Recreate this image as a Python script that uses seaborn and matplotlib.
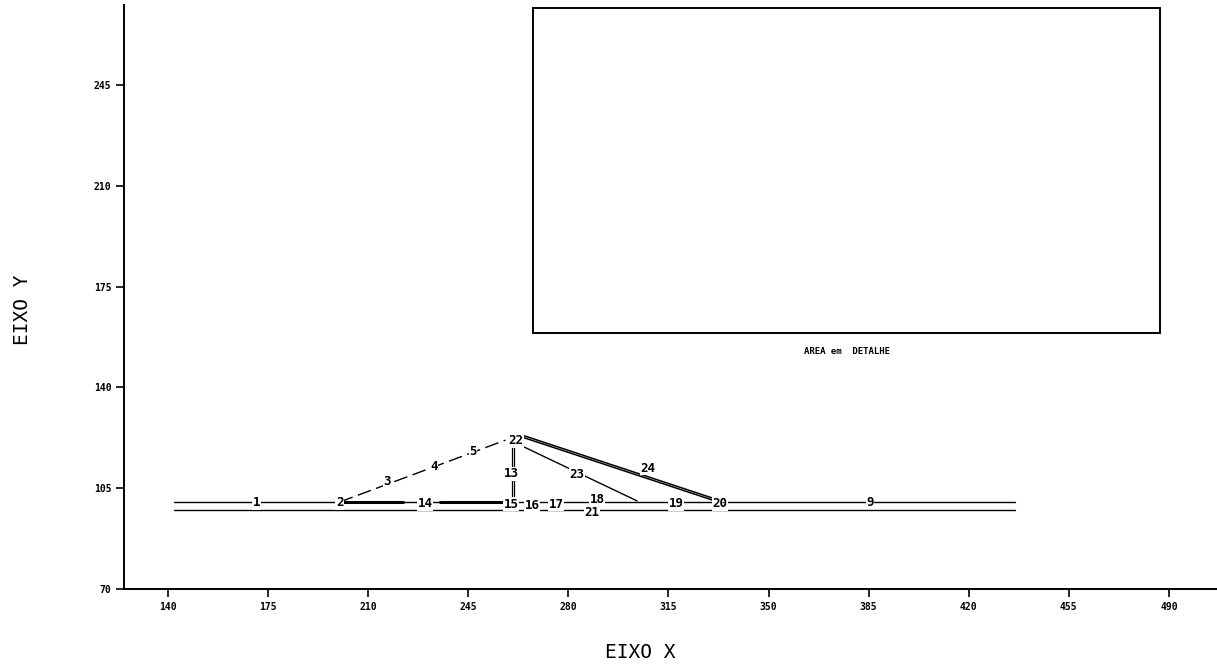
import matplotlib
matplotlib.use("Agg")
import matplotlib.pyplot as plt
import seaborn as sns
import pandas as pd
from matplotlib.patches import Rectangle

# Axis ticks
x_ticks = [140, 175, 210, 245, 280, 315, 350, 385, 420, 455, 490]
y_ticks = [70, 105, 140, 175, 210, 245]

# Chords of the truss (x start, x end, y)
upper_chord = [142.0, 436.0, 100.2]
lower_chord = [142.0, 436.0, 97.4]
# Heavier segments of the upper chord
heavy_segments = [[200.0, 222.0], [235.0, 258.0]]

# Inclined / vertical members: (x0, y0, x1, y1)
diag_left = [200.0, 100.2, 258.0, 121.7]
vertical_13 = [260.5, 100.2, 260.5, 121.0]
diag_23 = [262.4, 120.3, 304.0, 100.6]
diag_24 = [263.8, 123.1, 332.3, 100.6]

# Member / node labels
label_text = ["1", "2", "3", "4", "5", "13", "22", "14", "15", "16", "17",
              "18", "21", "23", "24", "19", "20", "9"]
label_x = [171.0, 200.0, 216.6, 233.0, 246.6, 260.0, 261.5, 229.9, 260.0,
           267.3, 275.7, 290.0, 288.3, 283.0, 307.8, 317.6, 333.0, 385.5]
label_y = [100.0, 100.0, 107.2, 112.7, 117.6, 110.0, 121.5, 99.6, 99.4,
           99.0, 99.4, 101.0, 96.6, 109.6, 112.0, 99.6, 99.6, 100.2]

# Detail window
detail_box = [267.6, 158.9, 486.9, 271.7]
detail_label = "AREA em  DETALHE"

sns.set_theme(style="ticks")
plt.rcParams["font.family"] = ["DejaVu Sans Mono", "DejaVu Sans"]

fig = plt.figure(figsize=(12.17, 6.69), dpi=100)
ax = fig.add_axes([124 / 1217, 1 - 589 / 669, 1 - 124 / 1217, (589 - 5) / 669])

chords = pd.DataFrame({
    "x": [upper_chord[0], upper_chord[1], lower_chord[0], lower_chord[1]],
    "y": [upper_chord[2], upper_chord[2], lower_chord[2], lower_chord[2]],
    "chord": ["upper", "upper", "lower", "lower"],
})
sns.lineplot(data=chords, x="x", y="y", units="chord", estimator=None,
             color="black", lw=1.0, ax=ax, sort=False)
for a, b in heavy_segments:
    ax.plot([a, b], [upper_chord[2], upper_chord[2]], color="black", lw=2.2)

ax.plot([diag_left[0], diag_left[2]], [diag_left[1], diag_left[3]],
        color="black", lw=1.0, dashes=(10, 4))
for dx in (-0.35, 0.35):
    ax.plot([vertical_13[0] + dx, vertical_13[2] + dx],
            [vertical_13[1], vertical_13[3]], color="black", lw=0.9)
ax.plot([diag_23[0], diag_23[2]], [diag_23[1], diag_23[3]],
        color="black", lw=1.0)
for dy in (-0.35, 0.35):
    ax.plot([diag_24[0], diag_24[2]], [diag_24[1] + dy, diag_24[3] + dy],
            color="black", lw=1.1)

for t, x, y in zip(label_text, label_x, label_y):
    ax.text(x, y, t, ha="center", va="center", fontsize=9, fontweight="bold",
            color="black",
            bbox=dict(facecolor="white", edgecolor="none", pad=0.4))

x0, y0, x1, y1 = detail_box
ax.add_patch(Rectangle((x0, y0), x1 - x0, y1 - y0, fill=False,
                       edgecolor="black", lw=1.4))
ax.text((x0 + x1) / 2, y0 - 6.5, detail_label, ha="center", va="center",
        fontsize=6.5, fontweight="bold", color="black")

ax.set_xlim(124.6, 506.8)
ax.set_ylim(70, 272.8)
ax.set_xticks(x_ticks)
ax.set_yticks(y_ticks)
ax.tick_params(axis="both", direction="out", length=6, width=1.2,
               labelsize=7, colors="black", pad=3)
for lab in ax.get_xticklabels() + ax.get_yticklabels():
    lab.set_fontweight("bold")
sns.despine(ax=ax)
ax.spines["left"].set_linewidth(1.4)
ax.spines["bottom"].set_linewidth(1.4)
ax.spines["left"].set_color("black")
ax.spines["bottom"].set_color("black")
ax.set_xlabel("")
ax.set_ylabel("")

fig.text(640 / 1217, 1 - 652 / 669, "EIXO X", ha="center", va="center",
         fontsize=14, color="black")
fig.text(22 / 1217, 1 - 310 / 669, "EIXO Y", ha="center", va="center",
         fontsize=14, color="black", rotation=90)

fig.savefig("out.png", dpi=100)
